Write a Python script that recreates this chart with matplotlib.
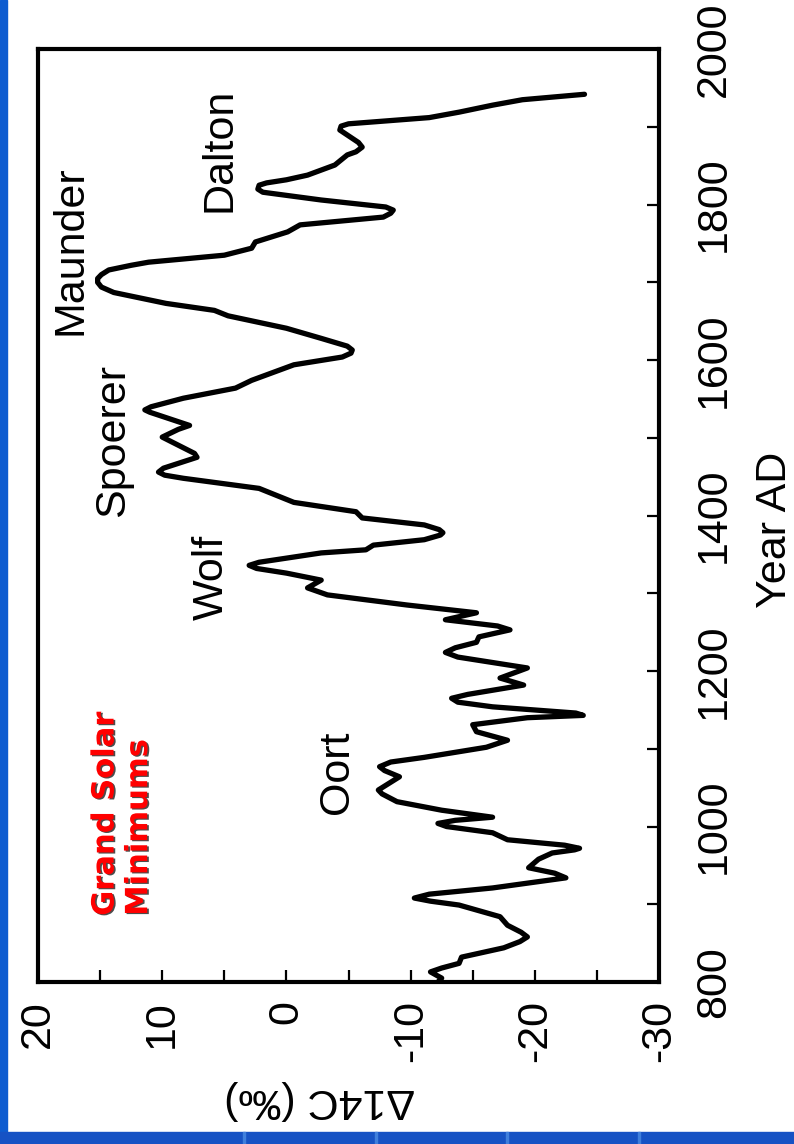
import matplotlib.pyplot as plt
import matplotlib.patheffects as pe
from matplotlib.patches import Rectangle
from matplotlib.ticker import MultipleLocator

plt.rcParams['font.family'] = ['Liberation Sans', 'DejaVu Sans']
plt.rcParams['axes.unicode_minus'] = False

# radiocarbon record, calendar year vs delta 14C (per mil)
years = [800, 805, 813, 818, 824, 832, 844, 852, 858, 864, 873, 884, 899,
         904, 908, 913, 921, 934, 940, 947, 958, 966, 970, 972, 976, 983,
         992, 1000, 1004, 1008, 1012, 1021, 1032, 1042, 1047, 1052, 1064,
         1072, 1077, 1083, 1089, 1102, 1111, 1122, 1131, 1140, 1143, 1146,
         1154, 1160, 1165, 1170, 1182, 1191, 1204, 1218, 1224, 1230, 1237,
         1244, 1253, 1258, 1266, 1275, 1285, 1298, 1307, 1317, 1326, 1332,
         1336, 1340, 1352, 1356, 1362, 1369, 1375, 1378, 1382, 1388, 1397,
         1405, 1417, 1435, 1448, 1452, 1456, 1461, 1475, 1480, 1501, 1511,
         1516, 1533, 1536, 1540, 1551, 1564, 1574, 1594, 1604, 1609, 1613,
         1618, 1628, 1641, 1657, 1664, 1673, 1687, 1694, 1700, 1705, 1710,
         1716, 1722, 1726, 1735, 1744, 1752, 1765, 1774, 1784, 1789, 1793,
         1797, 1806, 1816, 1820, 1825, 1828, 1832, 1838, 1851, 1864, 1868,
         1874, 1880, 1896, 1901, 1904, 1912, 1919, 1928, 1935, 1942]
d14c = [-12.2, -12.5, -11.6, -12.5, -13.9, -14.1, -17.5, -18.8, -19.4,
        -18.9, -17.8, -17.2, -13.9, -11.6, -10.3, -11.5, -16.6, -22.5,
        -21.6, -19.5, -20.3, -21.4, -23.2, -23.6, -22.4, -17.8, -16.6,
        -12.9, -12.2, -13.6, -16.6, -12.5, -8.9, -7.7, -7.4, -7.9, -9.1,
        -7.9, -7.5, -8.4, -11.1, -16.1, -17.8, -15.3, -15.0, -19.4, -23.9,
        -23.3, -16.6, -13.8, -13.3, -14.6, -19.1, -17.2, -19.4, -13.8,
        -12.8, -13.6, -15.3, -15.5, -18.0, -17.0, -12.8, -15.3, -9.7, -3.3,
        -1.7, -2.8, 0.0, 2.4, 3.0, 2.2, -2.8, -6.4, -7.0, -11.1, -12.4,
        -12.6, -12.3, -11.1, -6.1, -5.6, -0.6, 2.2, 8.3, 9.8, 10.3, 9.9, 7.2,
        7.4, 10.0, 8.7, 7.8, 11.0, 11.4, 10.9, 8.3, 4.1, 2.8, -0.6, -4.5,
        -5.2, -5.3, -4.9, -2.8, 0.0, 4.7, 5.8, 9.7, 13.9, 14.9, 15.2, 15.2,
        14.9, 14.3, 12.5, 11.1, 5.0, 2.8, 2.5, -0.1, -1.1, -7.8, -8.4, -8.6,
        -8.0, -2.8, 1.9, 2.3, 2.2, 1.6, 0.0, -1.7, -3.9, -4.9, -5.6, -6.1,
        -5.8, -4.3, -4.4, -5.0, -11.5, -13.9, -16.6, -19.0, -24.0]

minima = ['Oort', 'Wolf', 'Spoerer', 'Maunder', 'Dalton']

fig = plt.figure(figsize=(7.94, 11.44), dpi=100)

# slide background strips
blue = '#0d5cd0'
fig.patches.append(Rectangle((0, 0), 0.009, 1, transform=fig.transFigure,
                             color=blue, zorder=0))
fig.patches.append(Rectangle((0, 0), 1, 0.0105, transform=fig.transFigure,
                             color='#1652c4', zorder=0))
for xs in [243, 375, 506, 638]:
    fig.patches.append(Rectangle((xs / 794, 0), 0.002, 0.0105,
                                 transform=fig.transFigure,
                                 color='#3f7fdc', zorder=1))

# chart drawn turned on its side: years up the page, delta 14C right to left
ax = fig.add_axes([0.0479, 0.1416, 0.7821, 0.8154])
ax.plot(d14c, years, color='black', lw=3.8,
        solid_joinstyle='round', solid_capstyle='round')

ax.set_xlim(20, -30)
ax.set_ylim(800, 2000)
ax.yaxis.tick_right()
ax.xaxis.set_major_locator(MultipleLocator(10))
ax.xaxis.set_minor_locator(MultipleLocator(5))
ax.yaxis.set_major_locator(MultipleLocator(200))
ax.yaxis.set_minor_locator(MultipleLocator(100))
ax.tick_params(which='both', direction='in', length=9, width=1.6,
               top=False, left=False, bottom=True, right=True)
ax.tick_params(axis='x', labelrotation=90, pad=13, labelsize=31)
ax.tick_params(axis='y', labelrotation=90, pad=25, labelsize=31)
for lbl in ax.get_yticklabels():
    lbl.set_va('center')
for sp in ax.spines.values():
    sp.set_linewidth(3)

# names of the minima
spots = [(-4.1, 1070), (6.0, 1320), (14.0, 1497), (17.4, 1741), (5.35, 1870)]
for name, (dx, yr) in zip(minima, spots):
    ax.text(dx, yr, name, rotation=90, ha='center', va='center', fontsize=31)

ax.text(0.135, 0.18, 'Grand Solar\nMinimums', transform=ax.transAxes,
        rotation=90, ha='center', va='center', multialignment='left',
        fontsize=22, fontweight='bold', color='#ff0000',
        family=['DejaVu Sans'],
        path_effects=[pe.withSimplePatchShadow(offset=(1.2, -0.8),
                                               shadow_rgbFace='black',
                                               alpha=0.7)])

fig.text(775 / 794, 1 - 530 / 1144, 'Year AD', rotation=90,
         ha='center', va='center', fontsize=31)
fig.text(320 / 794, 1 - 1100 / 1144, 'Δ14C (‰)', rotation=180,
         ha='center', va='center', fontsize=31)

fig.savefig('out.png', dpi=100)
